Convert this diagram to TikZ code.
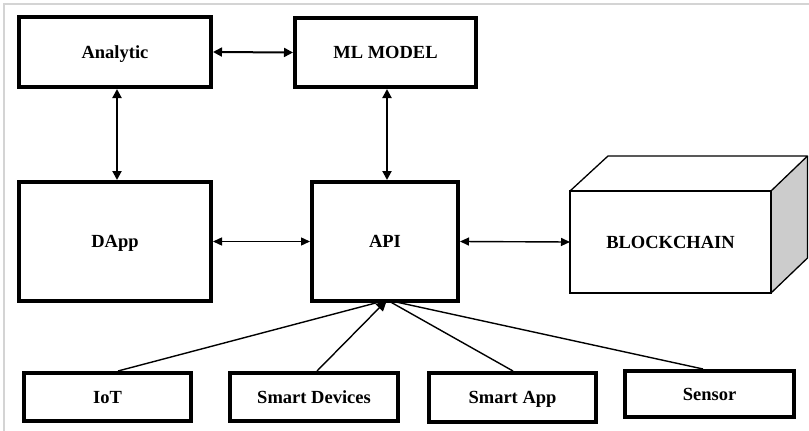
\documentclass[tikz,border=0pt]{standalone}
\usepackage{fontspec}
\setmainfont{Liberation Serif}
\usetikzlibrary{arrows.meta}
\begin{document}
\begin{tikzpicture}[x=1pt,y=-1pt,
  label font/.style={font=\fontsize{18.5}{20}\selectfont\bfseries,
    text height=12.5pt,text depth=0pt},
  box/.style={draw,line width=4pt,rectangle,inner sep=0pt,label font},
  link/.style={line width=2pt,{Triangle[length=9pt,width=9pt]}-{Triangle[length=9pt,width=9pt]}},
  thinlink/.style={line width=1.4pt,{Triangle[length=9pt,width=8pt]}-{Triangle[length=9pt,width=8pt]}},
  feed/.style={line width=1.4pt},
  cubeedge/.style={line width=1.3pt,line join=round}]
\useasboundingbox (0,0) rectangle (809,431);
\fill[white] (0,0) rectangle (809,431);
% frame lines along the top and left side
\draw[line width=2pt,color=black!17] (4,431) -- (4,4) -- (809,4);

% upper row
\node[box,minimum width=192pt,minimum height=70pt] (an) at (115,52) {Analytic};
\node[box,minimum width=181pt,minimum height=69pt] (ml) at (385.5,52.5) {ML MODEL};
% middle row
\node[box,minimum width=192pt,minimum height=119pt] (dapp) at (115,241.5) {DApp};
\node[box,minimum width=146pt,minimum height=119pt] (api) at (385,241.5) {API};

% blockchain block drawn as a cube
\coordinate (f1) at (570,191);
\coordinate (f2) at (771,191);
\coordinate (f3) at (771,293);
\coordinate (f4) at (570,293);
\coordinate (b1) at (608,156);
\coordinate (b2) at (807.5,156);
\coordinate (b3) at (807.5,258);
\fill[white] (f1) -- (b1) -- (b2) -- (f2) -- cycle;
\fill[black!20] (f2) -- (b2) -- (b3) -- (f3) -- cycle;
\draw[cubeedge] (f1) -- (b1) -- (b2) -- (f2);
\draw[cubeedge] (b2) -- (b3) -- (f3);
\node[draw,line width=1.3pt,fill=white,inner sep=0pt,outer sep=0pt,
  minimum width=201pt,minimum height=102pt,label font] (bc) at (670.5,242) {BLOCKCHAIN};

% bottom row
\node[box,minimum width=167pt,minimum height=48pt] (iot) at (107.5,397) {IoT};
\node[box,minimum width=168pt,minimum height=48pt] (sd) at (314,397) {Smart Devices};
\node[box,minimum width=167pt,minimum height=49pt] (sa) at (512.5,397.5) {Smart App};
\node[box,minimum width=169pt,minimum height=46pt] (sen) at (709.5,394) {Sensor};

% connectors
\draw[link] (an.east) -- (ml.west);
\draw[link] ([xshift=2pt]an.south) -- ([xshift=2pt]dapp.north);
\draw[link] ([xshift=1.5pt]ml.south) -- ([xshift=2pt]api.north);
\draw[thinlink] (dapp.east) -- (api.west);
\draw[thinlink] (api.east) -- (bc.west);

\coordinate (hub) at ([xshift=2pt,yshift=3pt]api.south);
\draw[feed] ([xshift=10.5pt]iot.north) -- (hub);
\draw[feed] ([xshift=0.5pt]sa.north) -- (hub);
\draw[feed] ([xshift=-6.5pt]sen.north) -- (hub);
\draw[feed,-{Triangle[length=11pt,width=10pt]}] ([xshift=3pt]sd.north) -- (hub);
\end{tikzpicture}
\end{document}
